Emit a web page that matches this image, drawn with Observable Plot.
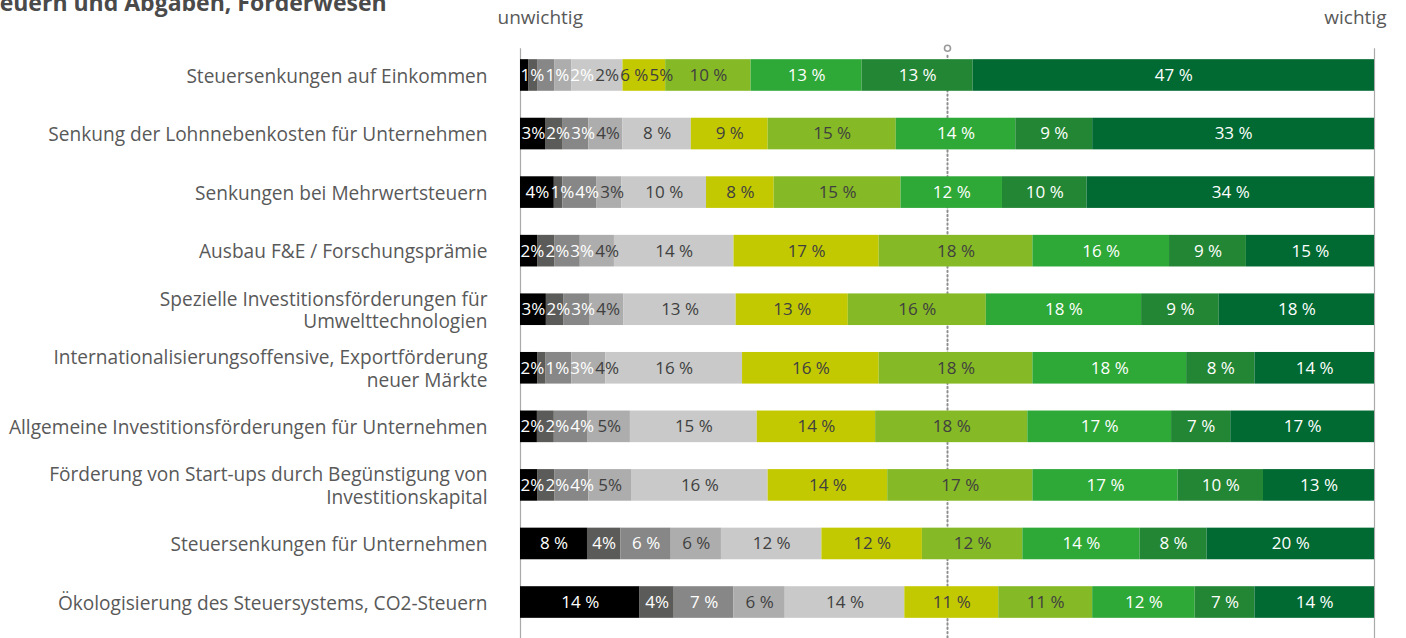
<!DOCTYPE html>
<html>
<head>
<meta charset="utf-8">
<script src="https://cdn.jsdelivr.net/npm/d3@7"></script>
<script src="https://cdn.jsdelivr.net/npm/@observablehq/plot@0.6"></script>
<style>
  html, body { margin: 0; padding: 0; background: #fff; }
  #wrap { position: relative; width: 1406px; height: 638px; overflow: hidden; font-family: "Open Sans", sans-serif; }
  #title { position: absolute; left: -23px; top: -9px; font-size: 23px; font-weight: 700; color: #4a4a4a; white-space: nowrap; line-height: 23px; }
  #chart { position: absolute; left: 0; top: 0; }
</style>
</head>
<body>
<div id="wrap">
  <div id="chart"></div>
  <div id="title">Steuern und Abgaben, Förderwesen</div>
</div>
<script>
const items = [
  "Steuersenkungen auf Einkommen",
  "Senkung der Lohnnebenkosten für Unternehmen",
  "Senkungen bei Mehrwertsteuern",
  "Ausbau F&E / Forschungsprämie",
  "Spezielle Investitionsförderungen für Umwelttechnologien",
  "Internationalisierungsoffensive, Exportförderung neuer Märkte",
  "Allgemeine Investitionsförderungen für Unternehmen",
  "Förderung von Start-ups durch Begünstigung von Investitionskapital",
  "Steuersenkungen für Unternehmen",
  "Ökologisierung des Steuersystems, CO2-Steuern"
];
const itemLabels = [
  "Steuersenkungen auf Einkommen",
  "Senkung der Lohnnebenkosten für Unternehmen",
  "Senkungen bei Mehrwertsteuern",
  "Ausbau F&E / Forschungsprämie",
  "Spezielle Investitionsförderungen für\nUmwelttechnologien",
  "Internationalisierungsoffensive, Exportförderung\nneuer Märkte",
  "Allgemeine Investitionsförderungen für Unternehmen",
  "Förderung von Start-ups durch Begünstigung von\nInvestitionskapital",
  "Steuersenkungen für Unternehmen",
  "Ökologisierung des Steuersystems, CO2-Steuern"
];
const levels = [1, 2, 3, 4, 5, 6, 7, 8, 9, 10];
const levelColors = ["#000000", "#5b5b59", "#878787", "#adadad", "#c8c9c8", "#c3c900", "#85b925", "#2ea836", "#238634", "#006a32"];
const whiteText = [1, 2, 3, 8, 9, 10];

const v01 = [1, 1, 2, 2, 6, 5, 10, 13, 13, 47];
const v02 = [3, 2, 3, 4, 8, 9, 15, 14, 9, 33];
const v03 = [4, 1, 4, 3, 10, 8, 15, 12, 10, 34];
const v04 = [2, 2, 3, 4, 14, 17, 18, 16, 9, 15];
const v05 = [3, 2, 3, 4, 13, 13, 16, 18, 9, 18];
const v06 = [2, 1, 3, 4, 16, 16, 18, 18, 8, 14];
const v07 = [2, 2, 4, 5, 15, 14, 18, 17, 7, 17];
const v08 = [2, 2, 4, 5, 16, 14, 17, 17, 10, 13];
const v09 = [8, 4, 6, 6, 12, 12, 12, 14, 8, 20];
const v10 = [14, 4, 7, 6, 14, 11, 11, 12, 7, 14];
const rows = [v01, v02, v03, v04, v05, v06, v07, v08, v09, v10];

const fmt = v => v >= 6 ? `${v} %` : `${v}%`;
const isWhite = d => whiteText.includes(d.level);
const labelOf = new Map(items.map((d, i) => [d, itemLabels[i]]));

// layout helpers (plot width between the two frame lines, label font size)
const barSpan = 1406 - 520 - 32;
const labelFont = 17;
const labelWidth = s => {
  let w = 0;
  for (const ch of s) w += ch === "%" ? 0.834 : ch === " " ? 0.26 : 0.572;
  return w * labelFont / barSpan; // in fraction of the bar
};

const table = [];
items.forEach((item, i) => {
  const vals = rows[i];
  const total = d3.sum(vals);
  let cum = 0, prevX = -Infinity, prevW = 0;
  levels.forEach((lv, j) => {
    const v = vals[j];
    const mid = (cum + v / 2) / total;
    cum += v;
    const text = fmt(v);
    const w = labelWidth(text);
    // keep narrow-segment labels from running into each other (pack left to right)
    let lx = Math.max(mid, w / 2, prevX + (prevW + w) / 2 + 1 / barSpan);
    prevX = lx; prevW = w;
    table.push({item, level: lv, value: v, text, labelX: lx});
  });
});

const stackOpts = {offset: "normalize", x: "value", y: "item"};

const plot = Plot.plot({
  width: 1406,
  height: 638,
  marginLeft: 520,
  marginRight: 32,
  marginTop: 45.7,
  marginBottom: 6.7,
  style: {fontFamily: "'Open Sans', sans-serif", background: "#fff"},
  x: {domain: [0, 1], axis: null},
  y: {domain: items, axis: null, paddingInner: 0.46, paddingOuter: 0.23, round: false},
  color: {domain: levels, range: levelColors},
  marks: [
    Plot.ruleX([0, 1], {stroke: "#aaaaaa", strokeWidth: 1.2, insetTop: 2.5, insetBottom: -8}),
    Plot.ruleX([0.5], {stroke: "#8f8f8f", strokeWidth: 2, strokeDasharray: "1.4,2.9", strokeLinecap: "round", insetTop: 10, insetBottom: -8}),
    Plot.dot([0.5], {x: d => d, frameAnchor: "top", dy: 2, r: 3, stroke: "#9a9a9a", strokeWidth: 1.6, fill: "#fff"}),
    Plot.barX(table, Plot.stackX({...stackOpts, fill: "level"})),
    Plot.text(table.filter(isWhite), {x: "labelX", y: "item", text: "text", fill: "#ffffff", fontSize: labelFont}),
    Plot.text(table.filter(d => !isWhite(d)), {x: "labelX", y: "item", text: "text", fill: "#404040", fontSize: labelFont}),
    Plot.text(items, {y: d => d, text: d => labelOf.get(d), frameAnchor: "left", dx: -33, textAnchor: "end", fontSize: 19.1, fill: "#595959", lineHeight: 1.17}),
    Plot.text(["unwichtig"], {x: 0, frameAnchor: "top", dy: -28.5, dx: -23, textAnchor: "start", lineAnchor: "middle", fontSize: 19, fill: "#595959"}),
    Plot.text(["wichtig"], {x: 1, frameAnchor: "top", dy: -28.5, dx: 12, textAnchor: "end", lineAnchor: "middle", fontSize: 19, fill: "#595959"})
  ]
});
document.getElementById("chart").appendChild(plot);
</script>
</body>
</html>
